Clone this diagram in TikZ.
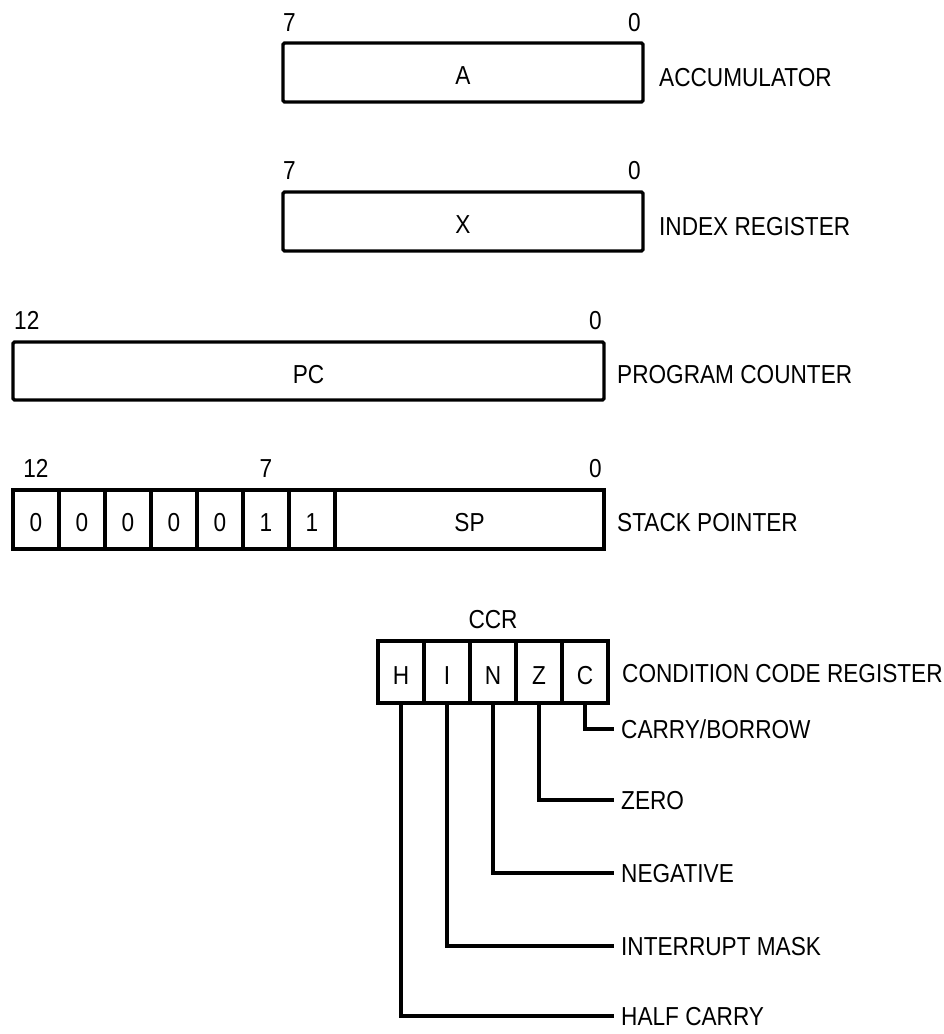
\documentclass[tikz,border=0pt]{standalone}
\usepackage{fontspec}
\setmainfont{Liberation Sans}[FakeStretch=0.87]
\begin{document}
\begin{tikzpicture}[x=1pt,y=-1pt,
  txt/.style={font=\fontsize{26}{30}\selectfont, inner sep=0pt, text height=18.6pt, text depth=0pt},
  reg/.style={draw, line width=3.4pt, rounded corners=1.5pt, inner sep=0pt, txt, text height=24.6pt},
  bitline/.style={line width=3.4pt, line join=miter}
]
\useasboundingbox (0,0) rectangle (943,1034);
\fill[white] (0,0) rectangle (943,1034);

% Accumulator
\node[reg, minimum width=360pt, minimum height=59pt] (acc) at (463,72.5) {A};
\node[txt, anchor=west] (acc7) at (283,22) {7};
\node[txt, anchor=east] (acc0) at (641,22) {0};
\node[txt, anchor=west] (accl) at (659,77) {ACCUMULATOR};

% Index register
\node[reg, minimum width=360pt, minimum height=59pt] (ix) at (463,221.5) {X};
\node[txt, anchor=west] (ix7) at (283,170) {7};
\node[txt, anchor=east] (ix0) at (641,170) {0};
\node[txt, anchor=west] (ixl) at (659,226) {INDEX REGISTER};

% Program counter
\node[reg, minimum width=591pt, minimum height=58pt] (pc) at (308.5,371) {PC};
\node[txt, anchor=west] (pc12) at (14,320) {12};
\node[txt, anchor=east] (pc0) at (602,320) {0};
\node[txt, anchor=west] (pcl) at (617,374) {PROGRAM COUNTER};

% Stack pointer
\foreach \i/\b in {1/0,2/0,3/0,4/0,5/0,6/1,7/1}{
  \node[reg, rounded corners=0pt, minimum width=46pt, minimum height=59pt] (sp\i) at ({13+46*(\i-1)+23},519.5) {\b};
}
\node[reg, rounded corners=0pt, minimum width=269pt, minimum height=59pt] (sp) at (469.5,519.5) {SP};
\draw[line width=3.4pt, rounded corners=1.5pt] (13,490) rectangle (604,549);
\node[txt] (sp12) at (sp1 |- 0,468) {12};
\node[txt] (sp7) at (sp6 |- 0,468) {7};
\node[txt, anchor=east] (sp0) at (602,468) {0};
\node[txt, anchor=west] (spl) at (617,522) {STACK POINTER};

% Condition code register
\foreach \n/\b in {1/H,2/I,3/N,4/Z,5/C}{
  \node[reg, rounded corners=0pt, minimum width=46pt, minimum height=62pt] (cc\n) at ({378+46*(\n-1)+23},672) {\b};
}
\draw[line width=3.4pt, rounded corners=1.5pt] (378,641) rectangle (608,703);
\node[txt] (ccrt) at (cc3 |- 0,619) {CCR};
\node[txt, anchor=west] (ccrl) at (622,673) {CONDITION CODE REGISTER};

% Bit labels
\node[txt, anchor=west] (lc) at (621,729) {CARRY/BORROW};
\node[txt, anchor=west] (lz) at (621,800) {ZERO};
\node[txt, anchor=west] (ln) at (621,873) {NEGATIVE};
\node[txt, anchor=west] (li) at (621,946) {INTERRUPT MASK};
\node[txt, anchor=west] (lh) at (621,1016) {HALF CARRY};

\draw[bitline] (cc5.south) |- ([xshift=-7pt]lc.west);
\draw[bitline] (cc4.south) |- ([xshift=-7pt]lz.west);
\draw[bitline] (cc3.south) |- ([xshift=-7pt]ln.west);
\draw[bitline] (cc2.south) |- ([xshift=-7pt]li.west);
\draw[bitline] (cc1.south) |- ([xshift=-7pt]lh.west);
\end{tikzpicture}
\end{document}
